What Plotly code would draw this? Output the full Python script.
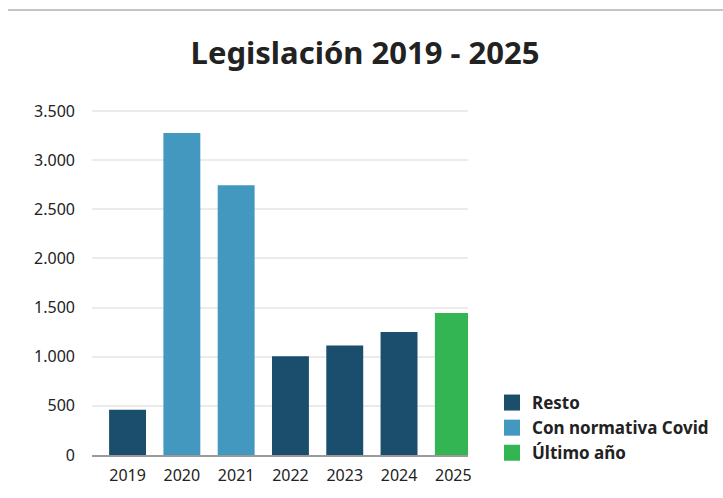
import plotly.graph_objects as go

years = ["2019", "2020", "2021", "2022", "2023", "2024", "2025"]
resto_idx = [0, 3, 4, 5]
resto_vals = [460, 1005, 1115, 1250]
covid_idx = [1, 2]
covid_vals = [3275, 2745]
ultimo_idx = [6]
ultimo_vals = [1445]
y_ticks = [0, 500, 1000, 1500, 2000, 2500, 3000, 3500]
y_labels = ["0", "500", "1.000", "1.500", "2.000", "2.500", "3.000", "3.500"]

W, H = 723, 498
L, R, T, B = 92, 255, 106, 43
FONT = "Noto Sans"
TXT = "#222222"
bw = 0.68
C_RESTO, C_COVID, C_ULT = "#1b4d6c", "#4298be", "#33b553"

fig = go.Figure()
for idx, vals, name, col in [(resto_idx, resto_vals, "Resto", C_RESTO),
                             (covid_idx, covid_vals, "Con normativa Covid", C_COVID),
                             (ultimo_idx, ultimo_vals, "Último año", C_ULT)]:
    fig.add_bar(x=idx, y=vals, name=name, marker_color=col, width=bw,
                marker_line_width=0, showlegend=False, legendgroup=name)
    fig.add_scatter(x=[None], y=[None], mode="markers", name=name, legendgroup=name,
                    marker=dict(symbol="square", size=16, color=col), showlegend=True)

pw = W - L - R
ph = H - T - B
fig.add_shape(type="line", xref="paper", yref="paper",
              x0=(8 - L) / pw, x1=(723 - L) / pw,
              y0=1 + (T - 10) / ph, y1=1 + (T - 10) / ph,
              line=dict(color="#b0b0b0", width=1.5))

fig.update_layout(
    width=W, height=H,
    margin=dict(l=L, r=R, t=T, b=B, pad=0),
    paper_bgcolor="white", plot_bgcolor="white",
    barmode="overlay",
    title=dict(text="<b>Legislación 2019 - 2025</b>", x=365 / W, xanchor="center",
               xref="container", y=1 - 53 / H, yanchor="middle", yref="container",
               font=dict(family=FONT, size=31, color=TXT)),
    font=dict(family=FONT, color=TXT, size=16),
    showlegend=True,
    legend=dict(xref="container", yref="container", x=492 / W, xanchor="left",
                y=1 - 385 / H, yanchor="top",
                font=dict(family=FONT, size=17, color=TXT, weight="bold"),
                itemsizing="trace", tracegroupgap=0, bgcolor="rgba(0,0,0,0)"),
    xaxis=dict(range=[-0.655, 6.27], tickvals=list(range(7)), ticktext=years,
               showgrid=False, showline=True, linecolor="#9a9a9a", linewidth=2,
               ticks="", zeroline=False, tickfont=dict(size=16, color=TXT),
               ticklabelstandoff=5, fixedrange=True),
    yaxis=dict(range=[0, 3550], tickvals=y_ticks, ticktext=y_labels, showgrid=True,
               gridcolor="#ebebeb", gridwidth=1.5, zeroline=False, showline=False,
               ticks="", tickfont=dict(size=16, color=TXT), ticklabelstandoff=16,
               fixedrange=True),
)

fig.write_html("out.html", config={"displayModeBar": False})
with open("out.html", encoding="utf-8") as f:
    html = f.read()
html = html.replace("<head>", "<head><style>html,body{margin:0;padding:0;}</style>", 1)
with open("out.html", "w", encoding="utf-8") as f:
    f.write(html)
